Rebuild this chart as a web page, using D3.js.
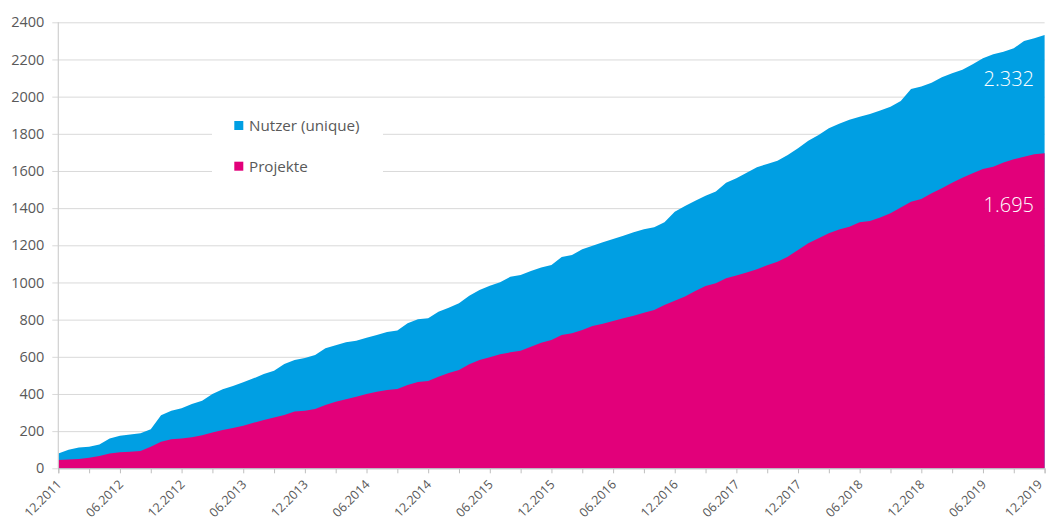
<!DOCTYPE html>
<html>
<head>
<meta charset="utf-8">
<script src="https://cdn.jsdelivr.net/npm/d3@7"></script>
<style>
  html, body { margin: 0; padding: 0; background: #fff; }
  svg { display: block; font-family: "Open Sans", "Liberation Sans", sans-serif; }
</style>
</head>
<body>
<svg id="chart" width="1046" height="523"></svg>
<script>
// ---- data (monthly, 12.2011 .. 12.2019) ----
const nutzer = [
  80,100,112,116,128,160,175,182,188,210,
  285,310,323,346,364,400,425,443,463,484,
  507,525,561,583,594,610,646,662,678,687,
  703,717,734,741,780,802,807,843,864,888,
  929,960,983,1001,1031,1040,1062,1080,1094,1137,
  1148,1179,1198,1216,1234,1252,1270,1286,1297,1324,
  1381,1412,1440,1466,1489,1537,1561,1591,1620,1638,
  1655,1686,1722,1763,1794,1830,1854,1875,1892,1907,
  1925,1946,1977,2041,2054,2075,2104,2126,2144,2174,
  2207,2228,2242,2260,2300,2314,2332
];
const projekte = [
  45,48,50,57,66,79,86,89,93,116,
  143,156,161,167,178,192,206,217,229,245,
  260,274,287,305,310,319,341,358,371,385,
  400,412,421,427,448,464,470,493,513,529,
  560,583,597,614,624,633,654,676,690,717,
  727,744,766,778,793,807,821,837,852,879,
  902,924,954,981,996,1023,1037,1053,1071,1093,
  1112,1139,1175,1211,1238,1265,1285,1300,1324,1331,
  1349,1372,1403,1435,1449,1480,1507,1537,1564,1588,
  1611,1623,1645,1663,1677,1690,1695
];
const xTickLabels = ["12.2011","06.2012","12.2012","06.2013","12.2013","06.2014","12.2014","06.2015",
  "12.2015","06.2016","12.2016","06.2017","12.2017","06.2018","12.2018","06.2019","12.2019"];
const yTicks = [0,200,400,600,800,1000,1200,1400,1600,1800,2000,2200,2400];
const seriesNames = ["Nutzer (unique)", "Projekte"];
const endLabels = ["2.332", "1.695"];
const colors = ["#009FE3", "#E2007A"];

// ---- layout ----
const mLeft = 58.3, mRight = 1044.6, mTop = 22.3, mBottom = 468.3;
const svg = d3.select("#chart");

const x = d3.scaleLinear().domain([0, nutzer.length - 1]).range([mLeft, mRight]);
const y = d3.scaleLinear().domain([0, 2400]).range([mBottom, mTop]);

// gridlines + y labels
const yAxis = d3.axisLeft(y).tickValues(yTicks).tickSize(-(mRight - mLeft))
  .tickPadding(14).tickFormat(d3.format("d"));
const gy = svg.append("g").attr("transform", `translate(${mLeft},0)`).call(yAxis);
gy.select(".domain").remove();
gy.selectAll(".tick line").attr("stroke", "#d9d9d9").attr("x1", -6);
gy.selectAll(".tick text")
  .attr("fill", "#595959").attr("font-size", 14.5)
  .attr("font-family", "'Open Sans', sans-serif");

// legend background (interrupts gridlines)
svg.append("rect").attr("x", 212).attr("y", 108).attr("width", 171).attr("height", 84).attr("fill", "#fff");

// areas (overlapping, both from zero)
const series = [nutzer, projekte];
series.forEach((s, k) => {
  const area = d3.area()
    .x((d, i) => x(i))
    .y0(y(0))
    .y1(d => y(d))
    .curve(d3.curveLinear);
  svg.append("path").datum(s).attr("d", area).attr("fill", colors[k]);
});

// y axis line
svg.append("line").attr("x1", mLeft).attr("x2", mLeft).attr("y1", mTop).attr("y2", mBottom)
  .attr("stroke", "#d0d0d0").attr("stroke-width", 1.2);

// x axis
const quarterTicks = d3.range(0, nutzer.length, 3);
const xAxis = d3.axisBottom(x).tickValues(quarterTicks).tickSize(5).tickFormat(() => "");
const gx = svg.append("g").attr("transform", `translate(0,${mBottom})`).call(xAxis);
gx.select(".domain").attr("stroke", "#bfbfbf");
gx.selectAll(".tick line").attr("stroke", "#bfbfbf");

// x labels every 6 months, rotated
svg.append("g").selectAll("text").data(xTickLabels).join("text")
  .attr("transform", (d, i) => `translate(${Math.min(x(i * 6) + 4, 1043)},${mBottom + 17}) rotate(-45)`)
  .attr("text-anchor", "end")
  .attr("fill", "#595959").attr("font-size", 12.5)
  .text(d => d);

// legend
const lg = svg.append("g");
seriesNames.forEach((n, k) => {
  const ly = 121 + k * 40.7;
  lg.append("rect").attr("x", 234.3).attr("y", ly).attr("width", 9).attr("height", 9).attr("fill", colors[k]);
  lg.append("text").attr("x", 249).attr("y", ly + 10).attr("fill", "#595959").attr("font-size", 15.2).text(n);
});

// end value labels
[86, 211.5].forEach((by, k) => {
  svg.append("text").attr("x", 1034).attr("y", by).attr("text-anchor", "end")
    .attr("fill", "#fff").attr("font-size", 20).attr("font-weight", 300)
    .text(endLabels[k]);
});
</script>
</body>
</html>
